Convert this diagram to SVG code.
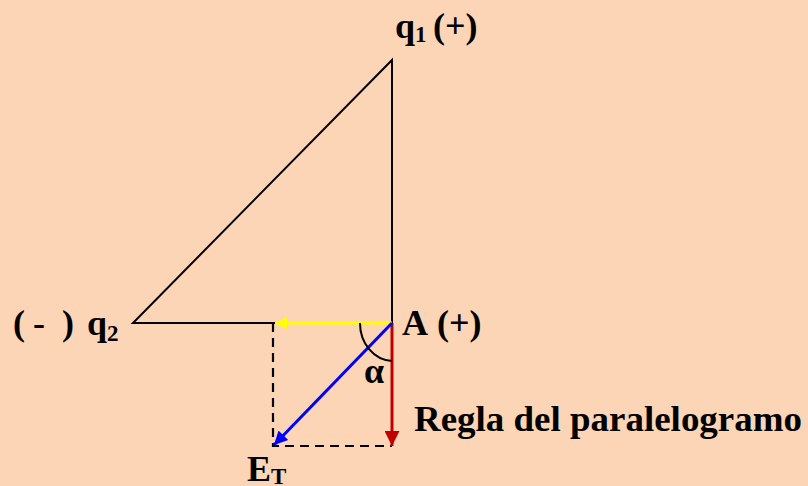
<svg xmlns="http://www.w3.org/2000/svg" width="808" height="486" viewBox="0 0 808 486">
<style>
.t{font-family:"Liberation Serif","Times New Roman",serif;font-weight:bold;fill:#000;font-size:36px}
.s{font-size:23px}
.k{stroke:#000;stroke-width:2;fill:none}
.d{stroke:#000;stroke-width:2.2;fill:none;stroke-dasharray:9,6}
</style>
<defs>
<marker id="hy" viewBox="0 0 10 10" refX="10" refY="5" markerWidth="5" markerHeight="4" markerUnits="strokeWidth" orient="auto"><path d="M0,0 L10,5 L0,10 z" fill="#FFFF00"/></marker>
<marker id="hr" viewBox="0 0 10 10" refX="10" refY="5" markerWidth="5" markerHeight="5" markerUnits="strokeWidth" orient="auto"><path d="M0,0 L10,5 L0,10 z" fill="#C00000"/></marker>
<marker id="hb" viewBox="0 0 10 10" refX="10" refY="5" markerWidth="5" markerHeight="4.5" markerUnits="strokeWidth" orient="auto"><path d="M0,0 L10,5 L0,10 z" fill="#0000FF"/></marker>
</defs>
<rect width="808" height="486" fill="#FBD5B5"/>
<g id="triangle">
<path class="k" d="M392,323 L392,60 L133,323 L275,323"/>
</g>
<g id="parallelogram">
<path class="d" d="M273,323 L273,446 L392,446"/>
</g>
<g id="connectors">
<line x1="392" y1="323" x2="275" y2="323" stroke="#FFFF00" stroke-width="3" marker-end="url(#hy)"/>
<line x1="392" y1="323" x2="392" y2="446" stroke="#C00000" stroke-width="3" marker-end="url(#hr)"/>
<line x1="392" y1="323" x2="274" y2="445" stroke="#0000FF" stroke-width="3" marker-end="url(#hb)"/>
</g>
<g id="angle">
<path class="k" d="M360,323 A33,38 0 0 0 392,361"/>
<text class="t" x="364" y="383">α</text>
</g>
<g id="q1"><text class="t" x="395" y="38">q<tspan class="s" dy="4">1</tspan><tspan dy="-4" x="433">(+)</tspan></text></g>
<g id="q2"><text class="t" y="335"><tspan x="13">(</tspan><tspan x="33">-</tspan><tspan x="62">)</tspan><tspan x="87">q</tspan><tspan class="s" dy="6">2</tspan></text></g>
<g id="A"><text class="t" x="402" y="335">A<tspan x="437">(+)</tspan></text></g>
<g id="ET"><text class="t" x="247" y="481">E<tspan class="s" dy="3">T</tspan></text></g>
<g id="rule"><text class="t" x="414" y="431" textLength="388" lengthAdjust="spacingAndGlyphs">Regla del paralelogramo</text></g>
</svg>
